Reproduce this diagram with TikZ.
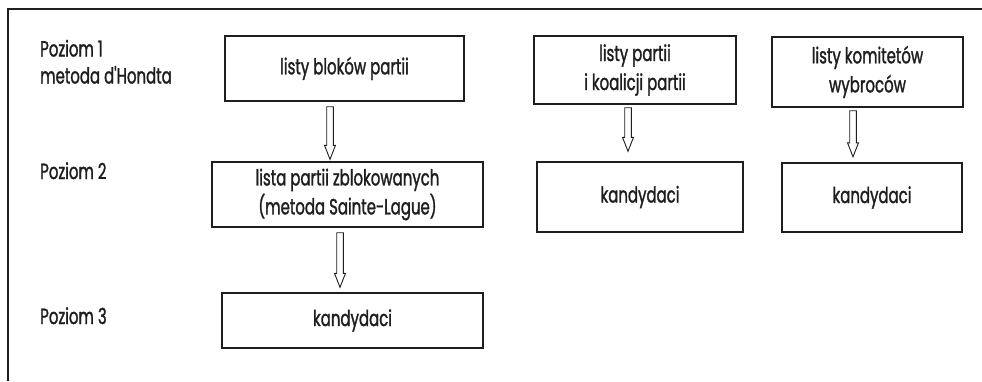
\documentclass[tikz,border=0pt]{standalone}
\usepackage{fontspec}
\setmainfont{Poppins}[FakeStretch=0.68,FakeBold=1.3,Ligatures=TeXOff]
\usetikzlibrary{calc}
\definecolor{ink}{HTML}{1E1E1E}
\tikzset{
  lbl/.style={text=ink, inner sep=0pt, font=\fontsize{22}{29}\selectfont},
  boxnode/.style={draw=ink, line width=1.4pt, align=center, text=ink, inner sep=0pt,
    font=\fontsize{22}{29}\selectfont},
  arrowline/.style={draw=ink, line width=0.9pt, fill=white},
  frameline/.style={draw=ink, line width=1.4pt}
}
\newcommand\blockarrow[2]{%
  \draw[arrowline] let \p1=(#1), \p2=(#2) in
    ({\x1-3.3pt},{\y1}) -- ({\x1-3.3pt},{\y2+14pt}) -- ({\x1-5.5pt},{\y2+14pt})
    -- ({\x1},{\y2}) -- ({\x1+5.5pt},{\y2+14pt}) -- ({\x1+3.3pt},{\y2+14pt})
    -- ({\x1+3.3pt},{\y1}) -- cycle;}
\begin{document}
\begin{tikzpicture}[x=1pt,y=-1pt]
\useasboundingbox (0,0) rectangle (982,381);
% frame
\coordinate (fl) at (8,381);
\coordinate (fc) at (8,9);
\coordinate (fr) at (982,9);
\draw[frameline] (fl) -- (fc) -- (fr);
% level labels
\node[lbl, anchor=base west] (p1) at (40,56.5) {Poziom 1};
\node[lbl, anchor=base west] (m1) at (40,83.5) {metoda d'Hondta};
\node[lbl, anchor=base west] (p2) at (40,179) {Poziom 2};
\node[lbl, anchor=base west] (p3) at (40,324) {Poziom 3};
% boxes
\node[boxnode, minimum width=239pt, minimum height=65pt] (b1) at (344.5,68.5) {listy bloków partii};
\node[boxnode, minimum width=271pt, minimum height=65pt] (b2) at (347.5,194.5) {lista partii zblokowanych\\(metoda Sainte-Lague)};
\node[boxnode, minimum width=261pt, minimum height=55pt] (b3) at (352.5,320.5) {kandydaci};
\node[boxnode, minimum width=202pt, minimum height=68pt] (b4) at (635,70) {listy partii\\i koalicji partii};
\node[boxnode, minimum width=206pt, minimum height=70pt] (b5) at (640,197) {kandydaci};
\node[boxnode, minimum width=191pt, minimum height=70pt] (b6) at (867.5,72) {listy komitetów\\wybroców};
\node[boxnode, minimum width=180pt, minimum height=69pt] (b7) at (872,197.5) {kandydaci};
% arrow ends
\coordinate (a1s) at ($(b1.south)+(-14.5,5)$);
\coordinate (a1e) at ($(b2.north)+(-17.5,-2)$);
\coordinate (a2s) at ($(b2.south)+(-7.5,5)$);
\coordinate (a2e) at ($(b3.north)+(-12.5,-5)$);
\coordinate (a3s) at ($(b4.south)+(-7,3)$);
\coordinate (a3e) at ($(b5.north)+(-12,-10)$);
\coordinate (a4s) at ($(b6.south)+(-14.5,3)$);
\coordinate (a4e) at ($(b7.north)+(-19,-5.5)$);
\blockarrow{a1s}{a1e}
\blockarrow{a2s}{a2e}
\blockarrow{a3s}{a3e}
\blockarrow{a4s}{a4e}
\end{tikzpicture}
\end{document}
